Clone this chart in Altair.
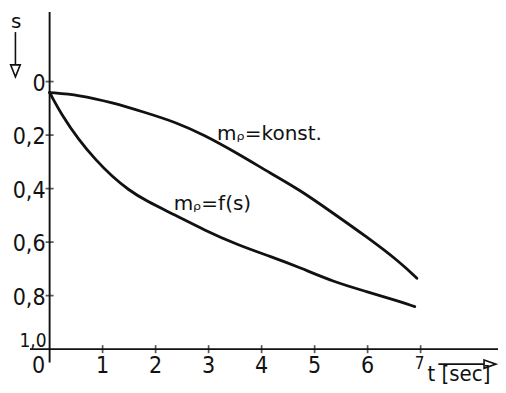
import altair as alt
import pandas as pd

# ---- data ----
t_konst = [0, 0.55, 1.18, 1.81, 2.38, 2.91, 3.54, 4.17, 4.72, 5.35, 5.98, 6.6, 6.93]
s_konst = [0.041, 0.05, 0.078, 0.116, 0.152, 0.199, 0.268, 0.343, 0.405, 0.492, 0.58, 0.673, 0.735]
t_fs = [0, 0.23, 0.55, 0.87, 1.18, 1.49, 1.81, 2.38, 2.91, 3.54, 4.17, 4.72, 5.35, 5.98, 6.6, 6.89]
s_fs = [0.041, 0.125, 0.218, 0.293, 0.355, 0.405, 0.445, 0.5, 0.554, 0.61, 0.654, 0.695, 0.748, 0.785, 0.822, 0.841]

x_ticks = [1, 2, 3, 4, 5, 6, 7]
x_labels = ["1", "2", "3", "4", "5", "6"]
x_label_last = "7"
x_label_zero = "0"
y_ticks = [0, 0.2, 0.4, 0.6, 0.8]
y_labels = ["0", "0,2", "0,4", "0,6", "0,8"]
y_label_last = "1,0"

ann_konst = "m\u1d68=konst."
ann_fs = "m\u1d68=f(s)"
y_title = "s"
x_title = "t [sec]"

FONT = "DejaVu Sans Condensed"
FONT2 = "DejaVu Sans"
BLACK = "#111111"

xs = alt.Scale(domain=[-0.37, 8.46], nice=False, zero=False)
ys = alt.Scale(domain=[-0.26, 1.134], nice=False, zero=False, reverse=True)


def X(field="t"):
    return alt.X(f"{field}:Q", scale=xs, axis=None)


def Y(field="s"):
    return alt.Y(f"{field}:Q", scale=ys, axis=None)


curves = pd.DataFrame(
    {"t": t_konst + t_fs,
     "s": s_konst + s_fs,
     "k": ["konst"] * len(t_konst) + ["fs"] * len(t_fs)}
)

lines = alt.Chart(curves).mark_line(
    color=BLACK, strokeWidth=2.8, interpolate="basis", strokeCap="round", clip=False
).encode(x=X(), y=Y(), detail="k:N")

# axes lines
yaxis = alt.Chart(pd.DataFrame({"t": [0], "s": [-0.26], "s2": [1.05]})).mark_rule(
    color=BLACK, strokeWidth=1.9, clip=False
).encode(x=X(), y=Y(), y2="s2:Q")
xaxis = alt.Chart(pd.DataFrame({"t": [-0.37], "t2": [8.46], "s": [1.0]})).mark_rule(
    color=BLACK, strokeWidth=1.9, clip=False
).encode(x=X(), x2="t2:Q", y=Y())

xt = alt.Chart(pd.DataFrame({"t": x_ticks, "s": [1.0] * len(x_ticks)})).mark_tick(
    orient="vertical", size=8, thickness=1.7, color=BLACK, clip=False
).encode(x=X(), y=Y())
yt = alt.Chart(pd.DataFrame({"t": [0] * len(y_ticks), "s": y_ticks})).mark_tick(
    orient="horizontal", size=8, thickness=1.7, color=BLACK, clip=False
).encode(x=X(), y=Y())

txt = dict(font=FONT, color=BLACK, clip=False)

xl = alt.Chart(pd.DataFrame({"t": x_ticks[:-1], "s": [1.0] * 6, "l": x_labels})).mark_text(
    fontSize=23, baseline="top", align="center", dy=6, **txt
).encode(x=X(), y=Y(), text="l:N")
xl7 = alt.Chart(pd.DataFrame({"t": [7], "s": [1.0], "l": [x_label_last]})).mark_text(
    fontSize=17, baseline="top", align="center", dy=7, dx=-1, **txt
).encode(x=X(), y=Y(), text="l:N")
xl0 = alt.Chart(pd.DataFrame({"t": [0], "s": [1.0], "l": [x_label_zero]})).mark_text(
    fontSize=23, baseline="top", align="center", dy=6, dx=-11, **txt
).encode(x=X(), y=Y(), text="l:N")

yl = alt.Chart(pd.DataFrame({"t": [0] * 5, "s": y_ticks, "l": y_labels})).mark_text(
    fontSize=23, baseline="middle", align="right", dx=-4, dy=2, **txt
).encode(x=X(), y=Y(), text="l:N")
yl1 = alt.Chart(pd.DataFrame({"t": [0], "s": [1.0], "l": [y_label_last]})).mark_text(
    fontSize=19, baseline="middle", align="right", dx=-3, dy=-8, **txt
).encode(x=X(), y=Y(), text="l:N")

ann = alt.Chart(pd.DataFrame({"t": [3.16, 2.34], "s": [0.218, 0.48], "l": [ann_konst, ann_fs]})).mark_text(
    fontSize=20, baseline="alphabetic", align="left", font=FONT2, color=BLACK, clip=False
).encode(x=X(), y=Y(), text="l:N")

# axis titles with arrows
stitle = alt.Chart(pd.DataFrame({"t": [-0.63], "s": [-0.2], "l": [y_title]})).mark_text(
    fontSize=20, baseline="alphabetic", align="center", font=FONT2, color=BLACK, clip=False
).encode(x=X(), y=Y(), text="l:N")
sshaft = alt.Chart(pd.DataFrame({"t": [-0.645], "s": [-0.185], "s2": [-0.065]})).mark_rule(
    color=BLACK, strokeWidth=1.6, clip=False
).encode(x=X(), y=Y(), y2="s2:Q")
shead = alt.Chart(pd.DataFrame({"t": [-0.645], "s": [-0.04]})).mark_point(
    shape="M-0.8,-1L0.8,-1L0,1Z", size=144, filled=False, color=BLACK,
    strokeWidth=1.6, opacity=1, clip=False
).encode(x=X(), y=Y())

ttitle = alt.Chart(pd.DataFrame({"t": [7.13], "s": [1.119], "l": [x_title]})).mark_text(
    fontSize=22, baseline="alphabetic", align="left", **txt
).encode(x=X(), y=Y(), text="l:N")
tshaft = alt.Chart(pd.DataFrame({"t": [7.335], "t2": [8.2], "s": [1.056]})).mark_rule(
    color=BLACK, strokeWidth=1.6, clip=False
).encode(x=X(), x2="t2:Q", y=Y())
thead = alt.Chart(pd.DataFrame({"t": [8.31], "s": [1.056]})).mark_point(
    shape="M-1,-0.7L1,0L-1,0.7Z", size=144, filled=False, color=BLACK,
    strokeWidth=1.6, opacity=1, clip=False
).encode(x=X(), y=Y())

chart = alt.layer(
    yaxis, xaxis, xt, yt, lines, xl, xl7, xl0, yl, yl1, ann, stitle, sshaft, shead, ttitle, tshaft, thead
).properties(
    width=468, height=373,
    autosize=alt.AutoSizeParams(type="none"),
    padding={"left": 22, "top": 4, "right": 0, "bottom": 0},
    background="white",
).configure_view(stroke=None)

chart.save("out.html", embed_options={"renderer": "svg", "actions": False})
